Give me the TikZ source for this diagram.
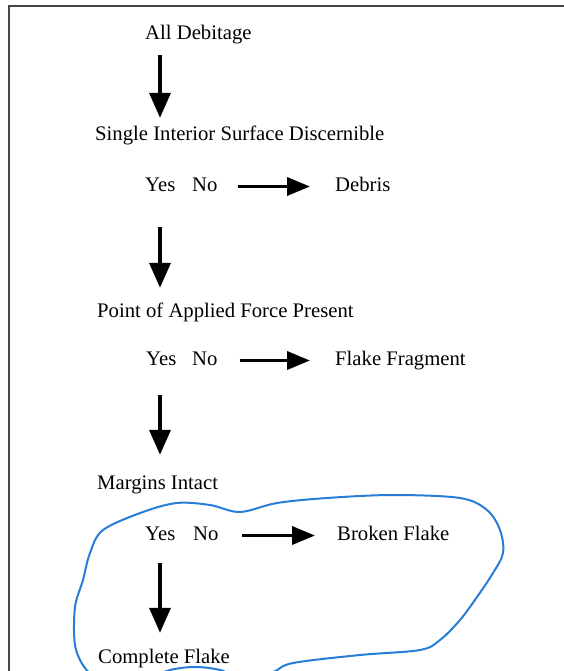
\documentclass[tikz,border=0pt]{standalone}
\usepackage{fontspec}
\setmainfont{Liberation Serif}
\usetikzlibrary{arrows.meta}
\definecolor{loopblue}{RGB}{40,125,215}
\definecolor{framegray}{RGB}{70,70,70}
\begin{document}
\begin{tikzpicture}[x=1pt,y=-1pt,
  lbl/.style={anchor=base west, inner sep=0pt, text height=14pt, text depth=5pt, font=\fontsize{20.7}{24}\selectfont},
  arr/.style={line width=3.6pt, -{Triangle[width=21pt,length=25pt]}},
  harr/.style={line width=3.6pt, -{Triangle[width=18pt,length=23pt]}}]
\useasboundingbox (0,0) rectangle (564,671);
\fill[white] (0,0) rectangle (564,671);
% frame
\draw[framegray, line width=1.5pt] (9,671) -- (9,6) -- (564,6);
% nodes
\node[lbl] (all) at (145,40) {All Debitage};
\node[lbl] (single) at (95,141) {Single Interior Surface Discernible};
\node[lbl] (yes1) at (145,191) {Yes};
\node[lbl] (no1) at (192,191) {No};
\node[lbl] (debris) at (335,191) {Debris};
\node[lbl] (point) at (97,317) {Point of Applied Force Present};
\node[lbl] (yes2) at (146,365) {Yes};
\node[lbl] (no2) at (192,365) {No};
\node[lbl] (frag) at (335,365) {Flake Fragment};
\node[lbl] (margins) at (97,489) {Margins Intact};
\node[lbl] (yes3) at (145,540) {Yes};
\node[lbl] (no3) at (193,540) {No};
\node[lbl] (broken) at (337,540) {Broken Flake};
\node[lbl] (complete) at (98,663) {Complete Flake};
\coordinate (axis) at (160,0);
% vertical arrows
\draw[arr, shorten <=10pt, shorten >=9pt] (all.south -| axis) -- (single.north -| axis);
\draw[arr, shorten <=31pt, shorten >=15pt] (yes1.south -| axis) -- (point.north -| axis);
\draw[arr, shorten <=25pt, shorten >=20pt] (yes2.south -| axis) -- (margins.north -| axis);
\draw[arr, shorten <=18pt, shorten >=16pt] (yes3.south -| axis) -- (complete.north -| axis);
% horizontal arrows
\draw[harr, shorten <=20pt, shorten >=25pt] (no1.east) -- (debris.west |- no1.east);
\draw[harr, shorten <=22pt, shorten >=25pt] (no2.east) -- (frag.west |- no2.east);
\draw[harr, shorten <=23pt, shorten >=22pt] (no3.east) -- (broken.west |- no3.east);
% hand-drawn loop
\begin{scope}
\clip (0,0) rectangle (564,671);
\draw[loopblue, line width=2pt, line join=round] plot[smooth cycle, tension=0.55] coordinates {
 (103,530) (143,512) (177,503) (210,505) (240,512) (277,503) (327,498) (393,495)
 (460,498) (487,510) (500,530) (503,553) (493,573) (477,597) (460,620) (440,640)
 (420,650) (360,655) (293,663) (273,672) (245,679) (220,670) (195,667) (170,670)
 (140,680) (100,678) (85,668) (75,645) (75,607) (83,580) (90,553)};
\end{scope}
\end{tikzpicture}
\end{document}
